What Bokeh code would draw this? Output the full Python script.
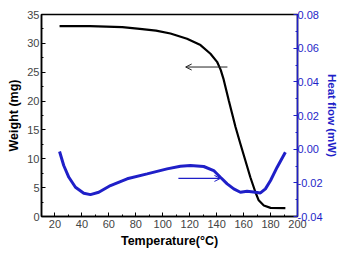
from bokeh.plotting import figure
from bokeh.models import LinearAxis, Range1d, FixedTicker, Arrow, OpenHead, NumeralTickFormatter
from bokeh.embed import file_html
from bokeh.resources import INLINE

# Weight (TGA) curve
temp_w = [23.4, 46, 70, 83, 95, 105.7, 118, 128, 135.4, 140.3, 143, 145, 147, 149, 151.5, 154,
          157.6, 161.3, 165, 168.8, 171.2, 175, 180, 191]
weight = [33.0, 33.0, 32.8, 32.5, 32.2, 31.7, 30.8, 29.7, 28.2, 26.8, 25.4, 23.9, 22.0, 20.1, 17.8, 15.5,
          12.6, 9.7, 6.8, 4.2, 2.8, 1.9, 1.5, 1.45]

# Heat flow curve
temp_h = [23.4, 26.5, 30.3, 35.2, 41.4, 46.3, 52.5, 61.2, 73.6, 88.4, 103.2, 113.1, 120.5,
          130.4, 137.8, 142.8, 147.8, 152.7, 157.6, 162.6, 168.8, 172.5, 176.2, 180, 184.9, 191]
heat = [-0.0014, -0.0097, -0.0167, -0.0226, -0.0262, -0.0270, -0.0256, -0.0216, -0.0176,
        -0.0147, -0.0117, -0.0101, -0.0097, -0.0103, -0.0127, -0.0167, -0.0206, -0.0236,
        -0.0256, -0.0250, -0.0256, -0.0260, -0.0236, -0.0186, -0.0107, -0.0018]

x_ticks = [20, 40, 60, 80, 100, 120, 140, 160, 180, 200]
x_minor = [10, 30, 50, 70, 90, 110, 130, 150, 170, 190]
yl_ticks = [0, 5, 10, 15, 20, 25, 30, 35]
yl_minor = [2.5, 7.5, 12.5, 17.5, 22.5, 27.5, 32.5]
yr_ticks = [-0.04, -0.02, 0.0, 0.02, 0.04, 0.06, 0.08]
yr_minor = [-0.03, -0.01, 0.01, 0.03, 0.05, 0.07]

BLUE = "#1f1fc8"
FONT = "Liberation Sans"

p = figure(width=344, height=254, output_backend="svg", toolbar_location=None,
           x_range=Range1d(10, 200), y_range=Range1d(0, 35),
           min_border_left=41, min_border_right=47, min_border_top=14, min_border_bottom=38)
p.extra_y_ranges = {"hf": Range1d(-0.04, 0.08)}

p.grid.visible = False
p.outline_line_color = "black"
p.outline_line_width = 1.5
p.background_fill_color = "white"
p.border_fill_color = "white"

p.line(temp_w, weight, line_color="black", line_width=2.2)
p.line(temp_h, heat, line_color=BLUE, line_width=3, y_range_name="hf")

p.add_layout(Arrow(end=OpenHead(size=6, line_color="#222222", line_width=1),
                   x_start=148, y_start=25.9, x_end=117, y_end=25.9,
                   line_color="#222222", line_width=1))
p.add_layout(Arrow(end=OpenHead(size=6, line_color=BLUE, line_width=1),
                   x_start=111.6, y_start=6.6, x_end=142.8, y_end=6.6,
                   line_color=BLUE, line_width=1.2))

right = LinearAxis(y_range_name="hf")
p.add_layout(right, "right")

def style(ax, color, label_color, ticks, minor, standoff, lstandoff):
    ax.ticker = FixedTicker(ticks=ticks, minor_ticks=minor)
    ax.axis_line_color = color
    ax.axis_line_width = 1.5
    ax.major_tick_line_color = color
    ax.minor_tick_line_color = color
    ax.major_tick_in = 4
    ax.major_tick_out = 0
    ax.minor_tick_in = 2
    ax.minor_tick_out = 0
    ax.major_label_text_font = FONT
    ax.major_label_text_font_size = "11px"
    ax.major_label_text_color = label_color
    ax.major_label_standoff = standoff
    ax.axis_label_text_font = FONT
    ax.axis_label_text_font_size = "12.5px"
    ax.axis_label_text_font_style = "bold"
    ax.axis_label_standoff = lstandoff

style(p.xaxis[0], "black", "#444444", x_ticks, x_minor, 3, 3)
style(p.yaxis[0], "black", "#444444", yl_ticks, yl_minor, 2, 3)
style(right, BLUE, BLUE, yr_ticks, yr_minor, 0, 0)
right.formatter = NumeralTickFormatter(format="0.00")
right.axis_label_text_font_size = "11.5px"

p.xaxis[0].axis_label = "Temperature(°C)"
p.yaxis[0].axis_label = "Weight (mg)"
right.axis_label = "Heat flow (mW)"
right.axis_label_text_color = BLUE
p.xaxis[0].axis_label_text_color = "black"
p.yaxis[0].axis_label_text_color = "black"

open("out.html", "w").write(file_html(p, INLINE))
